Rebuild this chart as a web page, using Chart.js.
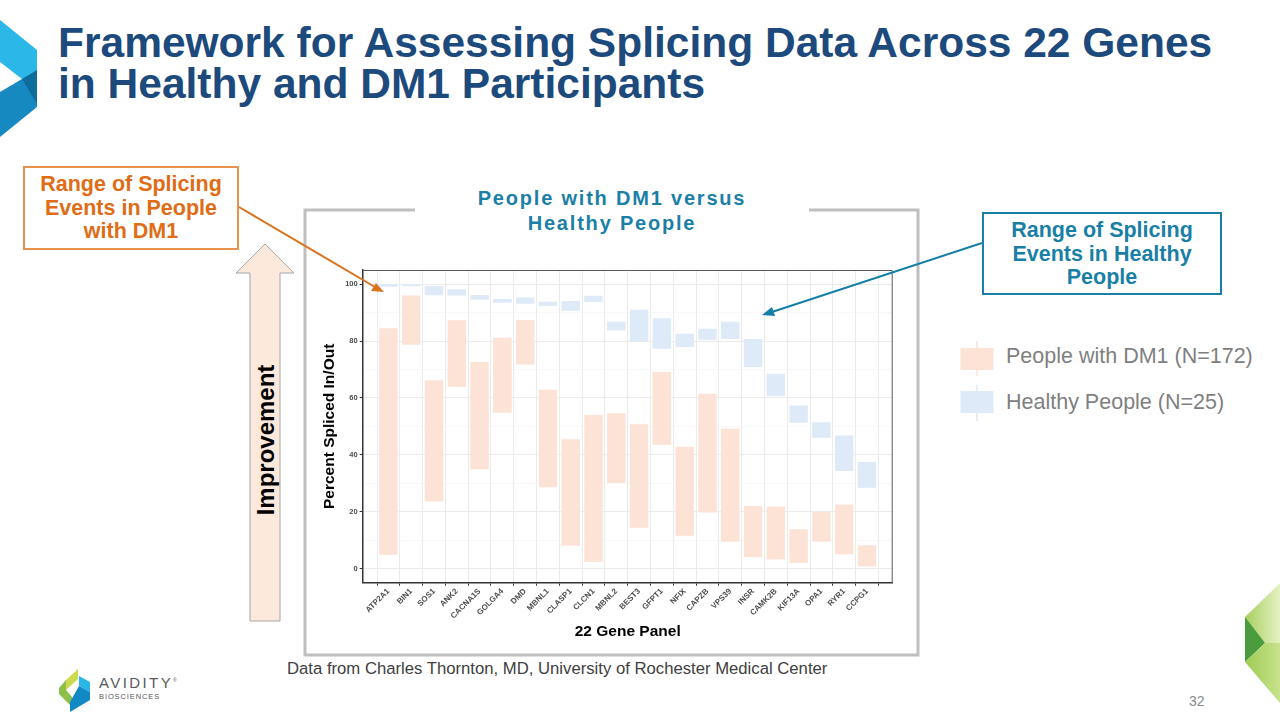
<!DOCTYPE html>
<html>
<head>
<meta charset="utf-8">
<script src="https://cdn.jsdelivr.net/npm/chart.js@4.4.1/dist/chart.umd.min.js"></script>
<style>
  html,body{margin:0;padding:0;background:#fff;}
  #page{position:relative;width:1280px;height:720px;overflow:hidden;background:#fff;font-family:"Liberation Sans",Arial,sans-serif;}
  .abs{position:absolute;}
  #title{left:58px;top:22px;font-size:42.5px;font-weight:bold;color:#1d4a7c;line-height:41px;white-space:nowrap;}
  #subtitle{left:412px;top:186px;width:400px;text-align:center;font-size:20px;font-weight:bold;color:#1b7fa8;letter-spacing:1.8px;line-height:25px;}
  .callout{font-weight:bold;font-size:21.5px;line-height:23.5px;text-align:center;box-sizing:border-box;background:#fff;white-space:nowrap;}
  #callDM1{left:23px;top:166px;width:216px;height:84px;border:2px solid #e8914a;color:#e06c16;padding-top:5px;}
  #callHealthy{left:982px;top:212px;width:240px;height:83px;border:2px solid #1a7fa6;color:#1a7fa6;padding-top:5px;}
  .legtxt{font-size:21.5px;color:#7f7f7f;white-space:nowrap;}
  #foot{left:287px;top:659px;font-size:16.7px;color:#404040;white-space:nowrap;}
  #pnum{left:1189px;top:693px;font-size:14px;color:#8a8a8a;}
  #improve{left:266px;top:440px;transform:translate(-50%,-50%) rotate(-90deg);font-size:24px;font-weight:bold;color:#000;white-space:nowrap;}
  canvas{position:absolute;left:300px;top:262px;}
</style>
</head>
<body>
<div id="page">
  <svg class="abs" style="left:0;top:0" width="1280" height="720">
    <!-- top-left logo ribbon -->
    <polygon points="0,20 37,50 37,76 22,79 0,62" fill="#2bb8e8"/>
    <polygon points="0,92 22,79 37,76 37,107 0,137" fill="#1689c0"/>
    <polygon points="22,79 37,70 37,104" fill="#0c6c9d"/>
    <!-- bottom-right green ribbon -->
    <defs>
      <linearGradient id="g1" x1="0" y1="0" x2="1" y2="0">
        <stop offset="0" stop-color="#a6cf5e"/><stop offset="1" stop-color="#e6f1c4"/>
      </linearGradient>
      <linearGradient id="g2" x1="0" y1="0" x2="1" y2="0">
        <stop offset="0" stop-color="#9ccb52"/><stop offset="1" stop-color="#c9e28e"/>
      </linearGradient>
    </defs>
    <polygon points="1280,583 1245,617 1245,628 1265,643 1280,643" fill="url(#g1)"/>
    <polygon points="1245,617 1265,643 1245,662" fill="#4b9b3f"/>
    <polygon points="1245,662 1265,643 1280,643 1280,703" fill="url(#g2)"/>
    <!-- Avidity logo icon -->
    <polygon points="66,680 78,669 78,679 66,690" fill="#cdd94f"/>
    <polygon points="59,688 66,680 66,690 72,697 72,707 59,694" fill="#8dc04a"/>
    <polygon points="79,676 90,682 90,692 79,686" fill="#2bb6e8"/>
    <polygon points="79,686 90,692 90,700 70,712 70,702" fill="#1189c2"/>
    <!-- gray frame -->
    <polyline points="415,210 305,210 305,655 918,655 918,210 809,210" fill="none" stroke="#bfbfbf" stroke-width="3"/>
    <!-- improvement arrow -->
    <polygon points="265,244 294,273 280,273 280,621 250,621 250,273 236,273" fill="#fde9dc" stroke="#a6a6a6" stroke-width="1"/>
  </svg>

  <div id="title" class="abs">Framework for Assessing Splicing Data Across 22 Genes<br>in Healthy and DM1 Participants</div>
  <div id="subtitle" class="abs">People with DM1 versus<br>Healthy People</div>
  <div id="improve" class="abs">Improvement</div>

  <canvas id="c" width="620" height="390"></canvas>

  <div id="callDM1" class="abs callout">Range of Splicing<br>Events in People<br>with DM1</div>
  <div id="callHealthy" class="abs callout">Range of Splicing<br>Events in Healthy<br>People</div>

  <!-- legend -->
  <svg class="abs" style="left:955px;top:335px" width="50" height="95">
    <line x1="22" y1="6" x2="22" y2="41" stroke="#fde2d6" stroke-width="1.5"/>
    <rect x="5.5" y="13" width="33" height="22" fill="#fde2d6"/>
    <line x1="22" y1="50" x2="22" y2="86" stroke="#deeaf7" stroke-width="1.5"/>
    <rect x="5.5" y="56" width="33" height="22" fill="#deeaf7"/>
  </svg>
  <div class="abs legtxt" style="left:1006px;top:344px">People with DM1 (N=172)</div>
  <div class="abs legtxt" style="left:1006px;top:390px">Healthy People (N=25)</div>

  <div id="foot" class="abs">Data from Charles Thornton, MD, University of Rochester Medical Center</div>
  <div class="abs" style="left:99px;top:674px;font-size:15px;letter-spacing:2.4px;color:#58595b;">AVIDITY<sup style="font-size:5px;letter-spacing:0">®</sup></div>
  <div class="abs" style="left:99px;top:692px;font-size:7.5px;letter-spacing:0.9px;color:#58595b;">BIOSCIENCES</div>
  <div id="pnum" class="abs">32</div>

  <!-- callout arrows -->
  <svg class="abs" style="left:0;top:0;pointer-events:none" width="1280" height="720">
    <line x1="239" y1="207" x2="375" y2="287" stroke="#d9731e" stroke-width="2"/>
    <polygon points="384,292 371,291 376,283" fill="#d9731e"/>
    <line x1="982" y1="243" x2="772" y2="312" stroke="#137fa7" stroke-width="2"/>
    <polygon points="762,315 772,307 775,316" fill="#137fa7"/>
  </svg>
</div>

<script>
// ---- data ----
const genes = ["ATP2A1","BIN1","SOS1","ANK2","CACNA1S","GOLGA4","DMD","MBNL1","CLASP1","CLCN1","MBNL2",
               "BEST3","GFPT1","NFIX","CAPZB","VPS39","INSR","CAMK2B","KIF13A","OPA1","RYR1","CCPG1"];
const dm1Low  = [4.8, 78.7, 23.6, 63.8, 34.9, 54.8, 71.8, 28.6, 8.0, 2.3, 30.1,
                 14.3, 43.5, 11.5, 19.7, 9.4, 4.0, 3.2, 1.9, 9.4, 5.0, 0.7];
const dm1High = [84.5, 96.0, 66.2, 87.3, 72.6, 81.2, 87.4, 62.9, 45.5, 54.0, 54.7,
                 50.7, 69.2, 42.8, 61.5, 49.2, 22.0, 21.8, 13.8, 19.9, 22.5, 8.2];
const healthyLow  = [99.1, 99.3, 96.1, 96.0, 94.5, 93.5, 93.1, 92.3, 90.7, 93.7, 83.7,
                     79.9, 77.3, 77.9, 80.5, 80.7, 70.9, 60.7, 51.3, 46.0, 34.3, 28.4];
const healthyHigh = [100.0, 100.0, 99.4, 98.2, 96.2, 94.8, 95.3, 93.8, 94.1, 95.9, 86.8,
                     91.0, 88.0, 82.6, 84.3, 86.8, 80.7, 68.5, 57.3, 51.4, 46.8, 37.5];
const yTicks = [0, 20, 40, 60, 80, 100];
const yMinor = [10, 30, 50, 70, 90];
const seriesNames = ["People with DM1 (N=172)", "Healthy People (N=25)"];

const FONT = "Liberation Sans";

const borderPlugin = {
  id: 'panelBorder',
  afterDraw(chart){
    const {ctx, chartArea:a} = chart;
    ctx.save();
    ctx.strokeStyle = '#5a5a5a';
    ctx.lineWidth = 1;
    ctx.beginPath();
    ctx.moveTo(a.left, a.top + 0.5);
    ctx.lineTo(a.right - 0.5, a.top + 0.5);
    ctx.lineTo(a.right - 0.5, a.bottom);
    ctx.stroke();
    ctx.restore();
  }
};

new Chart(document.getElementById('c').getContext('2d'), {
  type: 'bar',
  data: {
    datasets: [
      {
        label: seriesNames[0],
        data: genes.map((g, i) => ({x: i, y: [dm1Low[i], dm1High[i]]})),
        backgroundColor: '#fde2d6',
        borderWidth: 0,
        grouped: false,
        barPercentage: 0.81,
        categoryPercentage: 1,
        order: 2
      },
      {
        label: seriesNames[1],
        data: genes.map((g, i) => ({x: i, y: [healthyLow[i], healthyHigh[i]]})),
        backgroundColor: '#deeaf7',
        borderWidth: 0,
        grouped: false,
        barPercentage: 0.81,
        categoryPercentage: 1,
        order: 1
      }
    ]
  },
  options: {
    responsive: false,
    animation: false,
    devicePixelRatio: 1,
    layout: {padding: {left: 16.7, right: 27.3, top: 8, bottom: 6.7}},
    plugins: {legend: {display: false}, tooltip: {enabled: false}},
    scales: {
      x: {
        type: 'linear',
        min: -0.6,
        max: 21.6,
        afterBuildTicks: s => { s.ticks = genes.map((g, i) => ({value: i})); },
        afterFit: s => { s.height = 62.6; },
        ticks: {
          autoSkip: false,
          minRotation: 45,
          maxRotation: 45,
          padding: 1,
          color: '#4d4d4d',
          font: {family: FONT, size: 8, weight: 'bold'},
          callback: v => genes[v]
        },
        grid: {color: '#ebebeb', lineWidth: 1, tickLength: 3, tickColor: '#333'},
        border: {color: '#333', width: 1.5},
        title: {display: true, text: '22 Gene Panel', color: '#000',
                font: {family: FONT, size: 15.5, weight: 'bold'}, padding: {top: 4, bottom: 4}}
      },
      y: {
        min: -5,
        max: 105,
        afterBuildTicks: s => {
          s.ticks = yTicks.concat(yMinor).sort((a, b) => a - b).map(v => ({value: v}));
        },
        afterFit: s => { s.width = 46; },
        ticks: {
          padding: 2,
          color: '#4d4d4d',
          font: {family: FONT, size: 7.5, weight: 'bold'},
          callback: v => yTicks.includes(v) ? String(v) : ''
        },
        grid: {
          color: c => (c.tick && yTicks.includes(c.tick.value)) ? '#ebebeb' : '#f4f4f4',
          lineWidth: c => (c.tick && yTicks.includes(c.tick.value)) ? 1 : 0.6,
          tickLength: 3,
          tickColor: c => (c.tick && yTicks.includes(c.tick.value)) ? '#333' : 'rgba(0,0,0,0)'
        },
        border: {color: '#333', width: 1.5},
        title: {display: true, text: 'Percent Spliced In/Out', color: '#000',
                font: {family: FONT, size: 15.5, weight: 'bold'}, padding: {top: 4, bottom: 4}}
      }
    }
  },
  plugins: [borderPlugin]
});
</script>
</body>
</html>
